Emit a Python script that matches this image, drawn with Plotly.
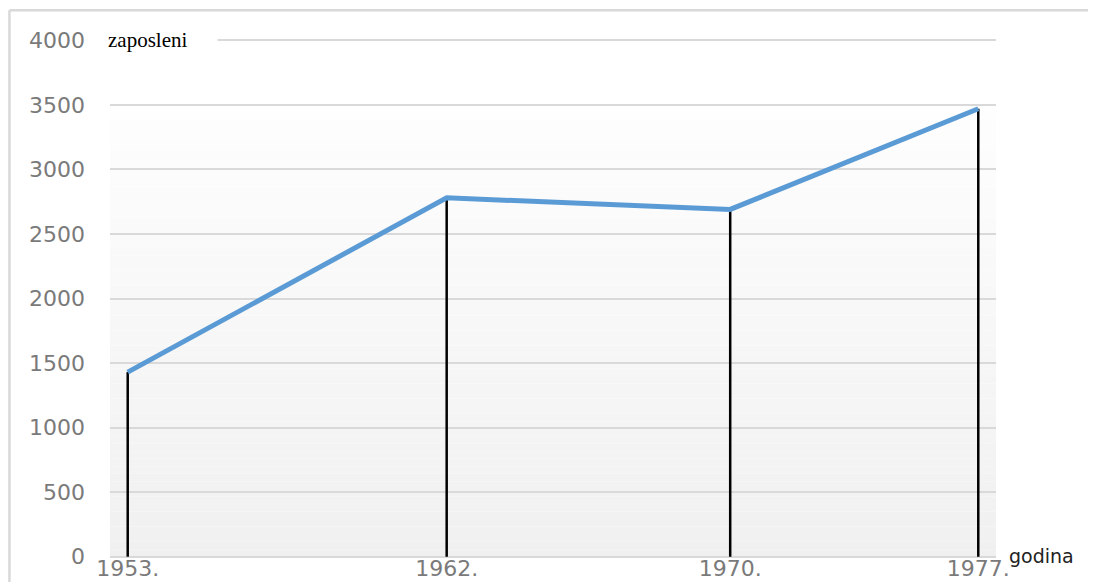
import plotly.graph_objects as go

# podaci
godine = [1953, 1962, 1970, 1977]
godine_txt = ["1953.", "1962.", "1970.", "1977."]
zaposleni = [1430, 2780, 2690, 3470]
y_ticks = [0, 500, 1000, 1500, 2000, 2500, 3000, 3500, 4000]

fig = go.Figure()

# crne okomite linije od tocke do nule
fig.add_trace(go.Scatter(x=godine, y=zaposleni, mode='markers',
                         marker=dict(size=2, color='rgba(0,0,0,0)'),
                         error_y=dict(type='data', symmetric=False,
                                      array=[0] * len(zaposleni), arrayminus=zaposleni,
                                      width=0, thickness=2.5, color='black'),
                         hoverinfo='skip', showlegend=False))

# plava linija
fig.add_trace(go.Scatter(x=godine, y=zaposleni, mode='lines',
                         line=dict(color='#5b9bd5', width=5),
                         showlegend=False))

# gradijent pozadine (bijelo -> svijetlo sivo), od 3500 prema dolje
n = 60
top, bottom = 3500, 0
c_top, c_bot = (254, 254, 254), (240, 240, 240)
for i in range(n):
    y0 = bottom + (top - bottom) * i / n
    y1 = bottom + (top - bottom) * (i + 1) / n
    t = (i + 0.5) / n
    c = [round(c_bot[k] + (c_top[k] - c_bot[k]) * t) for k in range(3)]
    fig.add_shape(type='rect', xref='paper', yref='y', x0=0, x1=1, y0=y0, y1=y1,
                  fillcolor=f'rgb({c[0]},{c[1]},{c[2]})', line=dict(width=0), layer='below')

# okvir (gore i lijevo)
fig.add_shape(type='line', xref='paper', yref='paper', x0=-0.1135, x1=1.2, y0=1.0555, y1=1.0555,
              line=dict(color='#d9d9d9', width=2.5), layer='above')
fig.add_shape(type='line', xref='paper', yref='paper', x0=-0.1135, x1=-0.1135, y0=1.0555, y1=-0.1,
              line=dict(color='#d9d9d9', width=2.5), layer='above')

# oznake osi
fig.add_annotation(text='zaposleni', xref='paper', yref='y', x=0, y=4000, xshift=-4,
                   xanchor='left', yanchor='middle', yshift=0, width=108, align='left',
                   bgcolor='white', showarrow=False,
                   font=dict(family='Liberation Serif', size=21, color='black'))
fig.add_annotation(text='godina', xref='paper', yref='y', x=1.0124, y=0,
                   xanchor='left', yanchor='middle', yshift=1, showarrow=False,
                   font=dict(family='DejaVu Sans', size=19, color='#222222'))

# stranica ima 8px margine, pa je slika 1088x574
fig.update_layout(width=1088, height=574,
                  margin=dict(l=102, r=100, t=31, b=24, autoexpand=False),
                  plot_bgcolor='white', paper_bgcolor='white')

fig.update_xaxes(range=[1952.5, 1977.5], tickvals=godine, ticktext=godine_txt,
                 showgrid=False, zeroline=False, showline=False, automargin=False,
                 ticklabelstandoff=-5,
                 tickfont=dict(family='DejaVu Sans', size=22, color='#7a7a7a'))
fig.update_yaxes(range=[-10, 4010], tickvals=y_ticks, showgrid=True,
                 gridcolor='#d9d9d9', gridwidth=2, zeroline=False, showline=False,
                 automargin=False, ticklabelstandoff=24,
                 tickfont=dict(family='DejaVu Sans', size=22, color='#7a7a7a'))

fig.write_html("out.html")
